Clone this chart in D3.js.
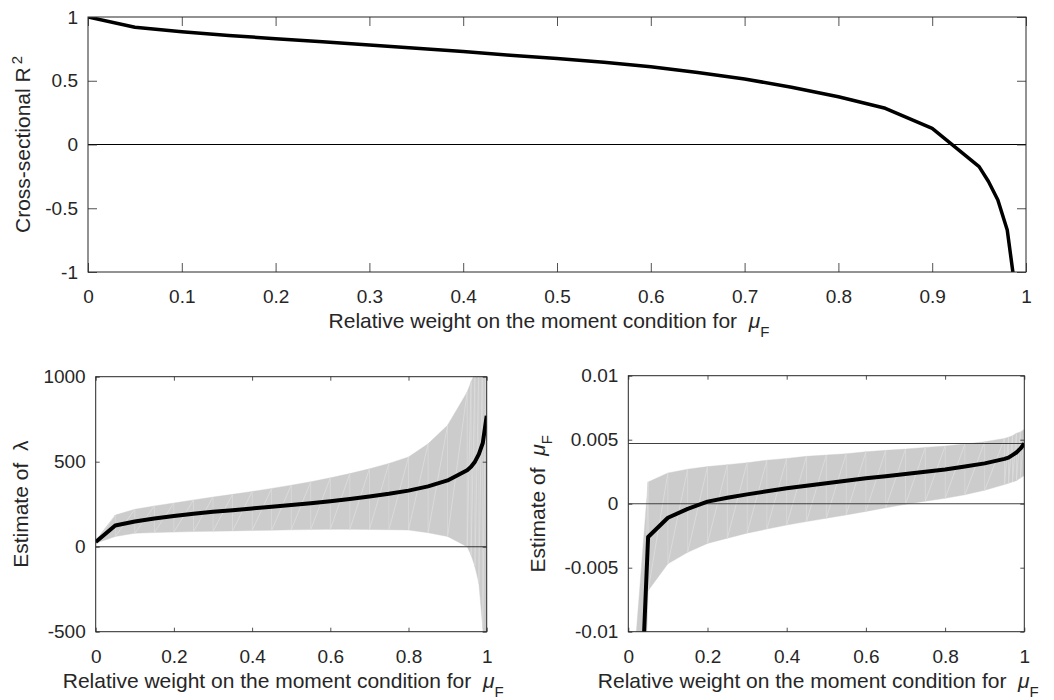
<!DOCTYPE html>
<html lang="en">
<head>
<meta charset="UTF-8">
<title>Relative weight on the moment condition</title>
<script src="https://d3js.org/d3.v7.min.js"></script>
<style>
  body { margin: 0; background: #fff; }
  svg text { font-family: 'Liberation Sans', Arial, Helvetica, sans-serif; fill: #262626; }
</style>
</head>
<body>
<div id="container"></div>
<script>

// grid of relative weights (x values shared by all three panels)
const weights = [0, 0.05, 0.1, 0.15, 0.2, 0.25, 0.3, 0.35, 0.4, 0.45, 0.5, 0.55, 0.6,
                 0.65, 0.7, 0.75, 0.8, 0.85, 0.9, 0.95, 0.96, 0.97, 0.98, 0.99, 1];

// top panel: cross-sectional R^2
const r2 = [1.0, 0.92, 0.885, 0.855, 0.83, 0.805, 0.78, 0.755, 0.73, 0.70, 0.675, 0.645, 0.61,
            0.565, 0.514, 0.449, 0.375, 0.284, 0.127, -0.174, -0.29, -0.435, -0.67, -1.22, -3.0];

// bottom left: estimate of lambda with band
const lambdaEst = [28, 125, 148, 166, 181, 194, 205, 215, 225, 235, 245, 256, 268,
                   281, 295, 311, 330, 355, 390, 450, 470, 500, 545, 610, 770];
const lambdaUp  = [36, 186, 220, 240, 257, 275, 292, 308, 325, 343, 362, 382, 405,
                   430, 458, 490, 528, 605, 715, 910, 970, 1020, 1100, 1250, 1600];
const lambdaLo  = [20, 60, 79, 83, 86, 89, 91, 93, 95, 97, 99, 101, 102,
                   102, 101, 100, 98, 82, 60, 0, -49, -118, -215, -480, -900];

// bottom right: estimate of mu_F with band
const muEst = [-0.0395, -0.0026, -0.0011, -0.0004, 0.00016, 0.00046, 0.00073, 0.00097, 0.0012, 0.0014, 0.0016, 0.0018, 0.00198,
               0.00215, 0.00232, 0.0025, 0.00268, 0.0029, 0.00315, 0.0035, 0.0036, 0.0038, 0.0040, 0.0043, 0.0047];
const muUp  = [-0.018, 0.0017, 0.0024, 0.0027, 0.0029, 0.00305, 0.0032, 0.0034, 0.00354, 0.0037, 0.0038, 0.0039, 0.00406,
               0.00417, 0.00427, 0.0044, 0.0045, 0.00466, 0.00484, 0.0051, 0.0052, 0.0053, 0.0055, 0.0056, 0.0058];
const muLo  = [-0.06, -0.0068, -0.0047, -0.0038, -0.0031, -0.0027, -0.0023, -0.00198, -0.00167, -0.0014, -0.00114, -0.00088, -0.0006,
               -0.00032, -0.00005, 0.0002, 0.00042, 0.0007, 0.00105, 0.0015, 0.0016, 0.0017, 0.0018, 0.002, 0.0022];
const muRef = [0, 0.0047];   // horizontal reference lines

// tick values
const topXTicks = [0, 0.1, 0.2, 0.3, 0.4, 0.5, 0.6, 0.7, 0.8, 0.9, 1];
const topYTicks = [-1, -0.5, 0, 0.5, 1];
const botXTicks = [0, 0.2, 0.4, 0.6, 0.8, 1];
const lambdaYTicks = [-500, 0, 500, 1000];
const muYTicks = [-0.01, -0.005, 0, 0.005, 0.01];

const W = 1054, H = 700;
const axisColor = "#262626";
const tickFont = 19, labelFont = 21;

const svg = d3.select("#container").append("svg").attr("width", W).attr("height", H);

let clipId = 0;

function panel(p) {
  const x = d3.scaleLinear().domain([0, 1]).range([p.left, p.left + p.w]);
  const y = d3.scaleLinear().domain(p.yDomain).range([p.top + p.h, p.top]);
  const g = svg.append("g");

  const id = "clip" + (clipId++);
  g.append("clipPath").attr("id", id).append("rect")
    .attr("x", p.left).attr("y", p.top).attr("width", p.w).attr("height", p.h);
  const plot = g.append("g").attr("clip-path", `url(#${id})`);

  // confidence band, one patch per segment like the original
  if (p.up) {
    const segs = d3.range(weights.length - 1);
    plot.selectAll("polygon.band").data(segs).enter().append("polygon")
      .attr("fill", "#cccccc").attr("stroke", "#cccccc").attr("stroke-width", 0.4)
      .attr("points", i => [
        [x(weights[i]), y(p.lo[i])], [x(weights[i]), y(p.up[i])],
        [x(weights[i + 1]), y(p.up[i + 1])], [x(weights[i + 1]), y(p.lo[i + 1])]
      ].map(d => d.join(",")).join(" "));
    // faint seams between the patches
    plot.selectAll("line.diag").data(segs).enter().append("line")
      .attr("stroke", "#e4e4e4").attr("stroke-width", 0.6)
      .attr("x1", i => x(weights[i])).attr("y1", i => y(p.lo[i]))
      .attr("x2", i => x(weights[i + 1])).attr("y2", i => y(p.up[i + 1]));
    plot.selectAll("line.vert").data(segs.slice(1)).enter().append("line")
      .attr("stroke", "#dcdcdc").attr("stroke-width", 0.6)
      .attr("x1", i => x(weights[i])).attr("y1", i => y(p.lo[i]))
      .attr("x2", i => x(weights[i])).attr("y2", i => y(p.up[i]));
  }

  // horizontal reference lines
  plot.selectAll("line.ref").data(p.refs).enter().append("line")
    .attr("stroke", p.refColor).attr("stroke-width", 1.1)
    .attr("x1", p.left).attr("x2", p.left + p.w)
    .attr("y1", d => y(d)).attr("y2", d => y(d));

  // main estimate line
  plot.append("path")
    .datum(weights.map((w, i) => [w, p.est[i]]))
    .attr("fill", "none").attr("stroke", "#000").attr("stroke-width", p.lw)
    .attr("stroke-linejoin", "round")
    .attr("d", d3.line().x(d => x(d[0])).y(d => y(d[1])));

  // axes with inward ticks on all four sides
  const fmt = d => String(d);
  const bottom = g.append("g").attr("transform", `translate(0,${p.top + p.h})`)
    .call(d3.axisBottom(x).tickValues(p.xTicks).tickFormat(fmt).tickSize(-p.tick).tickPadding(18));
  const left = g.append("g").attr("transform", `translate(${p.left},0)`)
    .call(d3.axisLeft(y).tickValues(p.yTicks).tickFormat(fmt).tickSize(-p.tick).tickPadding(10));
  const top = g.append("g").attr("transform", `translate(0,${p.top})`)
    .call(d3.axisTop(x).tickValues(p.xTicks).tickFormat("").tickSize(-p.tick));
  const right = g.append("g").attr("transform", `translate(${p.left + p.w},0)`)
    .call(d3.axisRight(y).tickValues(p.yTicks).tickFormat("").tickSize(-p.tick));
  [bottom, left, top, right].forEach(a => {
    a.select(".domain").remove();
    a.selectAll(".tick line").attr("stroke", axisColor).attr("stroke-width", 0.8);
    a.selectAll("text").attr("font-size", tickFont).attr("fill", axisColor)
      .style("font-family", "'Liberation Sans', Arial, sans-serif");
  });

  g.append("rect").attr("x", p.left).attr("y", p.top).attr("width", p.w).attr("height", p.h)
    .attr("fill", "none").attr("stroke", axisColor).attr("stroke-width", 1);

  // x label: "Relative weight on the moment condition for  mu_F"
  const xl = g.append("text").attr("x", p.left + p.w / 2 - 8).attr("y", p.top + p.h + 56)
    .attr("text-anchor", "middle").attr("font-size", labelFont);
  xl.append("tspan").text("Relative weight on the moment condition for \u00a0");
  xl.append("tspan").attr("font-style", "italic").text("\u03bc");
  xl.append("tspan").attr("font-size", 15).attr("dy", 9).text("F");

  // y label
  const yl = g.append("text")
    .attr("transform", `translate(${p.ylabX},${p.top + p.h / 2}) rotate(-90)`)
    .attr("text-anchor", "middle").attr("font-size", labelFont);
  p.ylabel(yl);
}

panel({
  left: 88, top: 17, w: 938, h: 255, tick: 9, lw: 3.5,
  yDomain: [-1, 1], xTicks: topXTicks, yTicks: topYTicks,
  est: r2, refs: [0], refColor: "#000", ylabX: 30,
  ylabel: t => {
    t.append("tspan").text("Cross-sectional R");
    t.append("tspan").attr("font-size", 15).attr("dx", 3).attr("dy", -8).text("2");
  }
});

panel({
  left: 95.7, top: 376.7, w: 391, h: 255, tick: 4, lw: 4,
  yDomain: [-500, 1000], xTicks: botXTicks, yTicks: lambdaYTicks,
  est: lambdaEst, up: lambdaUp, lo: lambdaLo, refs: [0], refColor: "#333", ylabX: 28,
  ylabel: t => {
    t.append("tspan").text("Estimate of \u00a0");
    t.append("tspan").text("\u03bb");
  }
});

panel({
  left: 628.3, top: 375.7, w: 396, h: 256, tick: 4, lw: 4,
  yDomain: [-0.01, 0.01], xTicks: botXTicks, yTicks: muYTicks,
  est: muEst, up: muUp, lo: muLo, refs: muRef, refColor: "#404040", ylabX: 545,
  ylabel: t => {
    t.append("tspan").text("Estimate of \u00a0");
    t.append("tspan").attr("font-style", "italic").text("\u03bc");
    t.append("tspan").attr("font-size", 15).attr("dy", 7).text("F");
  }
});

</script>
</body>
</html>
